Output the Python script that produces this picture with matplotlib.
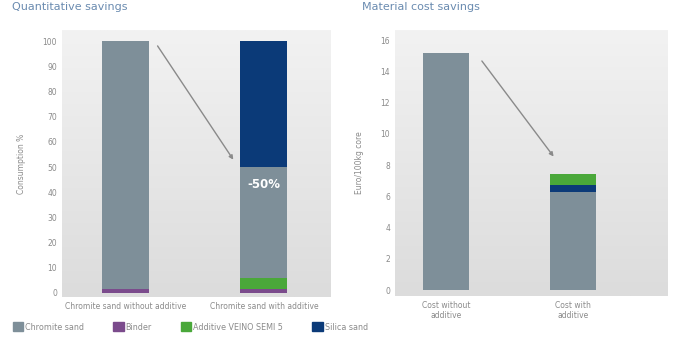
import numpy as np
import matplotlib.pyplot as plt
from matplotlib.patches import Patch

# consumption in % (stacked from bottom)
cons_labels = ['Chromite sand without additive', 'Chromite sand with additive']
cons_binder = [1.5, 1.5]
cons_additive = [0, 4.5]
cons_chromite = [98.5, 44]
cons_silica = [0, 50]

# material cost, Euro/100kg core
cost_labels = ['Cost without\nadditive', 'Cost with\nadditive']
cost_chromite = [15.2, 6.3]
cost_silica = [0, 0.45]
cost_additive = [0, 0.65]

c_chromite = '#7e8f99'
c_binder = '#7b4b8c'
c_additive = '#4aa83a'
c_silica = '#0b3a78'
c_text = '#8a8a8a'
c_title = '#6a8bb0'

fig = plt.figure(figsize=(6.74, 3.49), dpi=100)
fig.patch.set_facecolor('white')

def gradient_bg(ax, ylim, xlim):
    grad = np.linspace(0, 1, 100).reshape(-1, 1)
    ax.imshow(grad, extent=[xlim[0], xlim[1], ylim[0], ylim[1]], aspect='auto',
              cmap=plt.matplotlib.colors.LinearSegmentedColormap.from_list('bg', ['#dcdcdc', '#f2f2f2']),
              origin='lower', zorder=0)

def style(ax):
    for s in ax.spines.values():
        s.set_visible(False)
    ax.tick_params(length=0, labelsize=5.5, colors=c_text)

# left: consumption
ax1 = fig.add_axes([0.092, 0.149, 0.398, 0.765])
xl1 = (-0.46, 1.48)
yl1 = (-1.6, 104.4)
gradient_bg(ax1, yl1, xl1)
x = np.arange(2)
w1 = 0.34
b = np.zeros(2)
for vals, col in [(cons_binder, c_binder), (cons_additive, c_additive),
                  (cons_chromite, c_chromite), (cons_silica, c_silica)]:
    ax1.bar(x, vals, w1, bottom=b, color=col, zorder=2)
    b = b + np.array(vals)
ax1.set_xlim(xl1)
ax1.set_ylim(yl1)
ax1.set_yticks(range(0, 101, 10))
ax1.set_xticks(x)
ax1.set_xticklabels(cons_labels)
ax1.set_ylabel('Consumption %', fontsize=5.5, color=c_text, labelpad=12)
style(ax1)
ax1.text(1, 43, '-50%', color='white', fontsize=8.5, fontweight='bold',
         ha='center', va='center', zorder=3)
ax1.annotate('', xy=(0.79, 52), xytext=(0.22, 99),
             arrowprops=dict(arrowstyle='-|>', color='#8a8a8a', lw=1, mutation_scale=6), zorder=3)

# right: material cost
ax2 = fig.add_axes([0.586, 0.152, 0.404, 0.762])
xl2 = (-0.40, 1.74)
yl2 = (-0.38, 16.64)
gradient_bg(ax2, yl2, xl2)
w2 = 0.36
b = np.zeros(2)
for vals, col in [(cost_chromite, c_chromite), (cost_silica, c_silica),
                  (cost_additive, c_additive)]:
    ax2.bar(x, vals, w2, bottom=b, color=col, zorder=2)
    b = b + np.array(vals)
ax2.set_xlim(xl2)
ax2.set_ylim(yl2)
ax2.set_yticks(range(0, 17, 2))
ax2.set_xticks(x)
ax2.set_xticklabels(cost_labels)
ax2.set_ylabel('Euro/100kg core', fontsize=5.5, color=c_text, labelpad=12)
style(ax2)
ax2.annotate('', xy=(0.86, 8.4), xytext=(0.27, 14.8),
             arrowprops=dict(arrowstyle='-|>', color='#8a8a8a', lw=1, mutation_scale=6), zorder=3)

fig.text(0.018, 0.995, 'Quantitative savings', fontsize=8, color=c_title, va='top')
fig.text(0.537, 0.995, 'Material cost savings', fontsize=8, color=c_title, va='top')

handles = [Patch(color=c_chromite, label='Chromite sand'),
           Patch(color=c_binder, label='Binder'),
           Patch(color=c_additive, label='Additive VEINO SEMI 5'),
           Patch(color=c_silica, label='Silica sand')]
fig.legend(handles=handles, loc='center left', bbox_to_anchor=(0.008, 0.063), ncol=4,
           frameon=False, fontsize=5.8, labelcolor=c_text, handlelength=1.3,
           handleheight=1.3, handletextpad=0.25, columnspacing=3.6)

fig.savefig('out.png', dpi=100)
